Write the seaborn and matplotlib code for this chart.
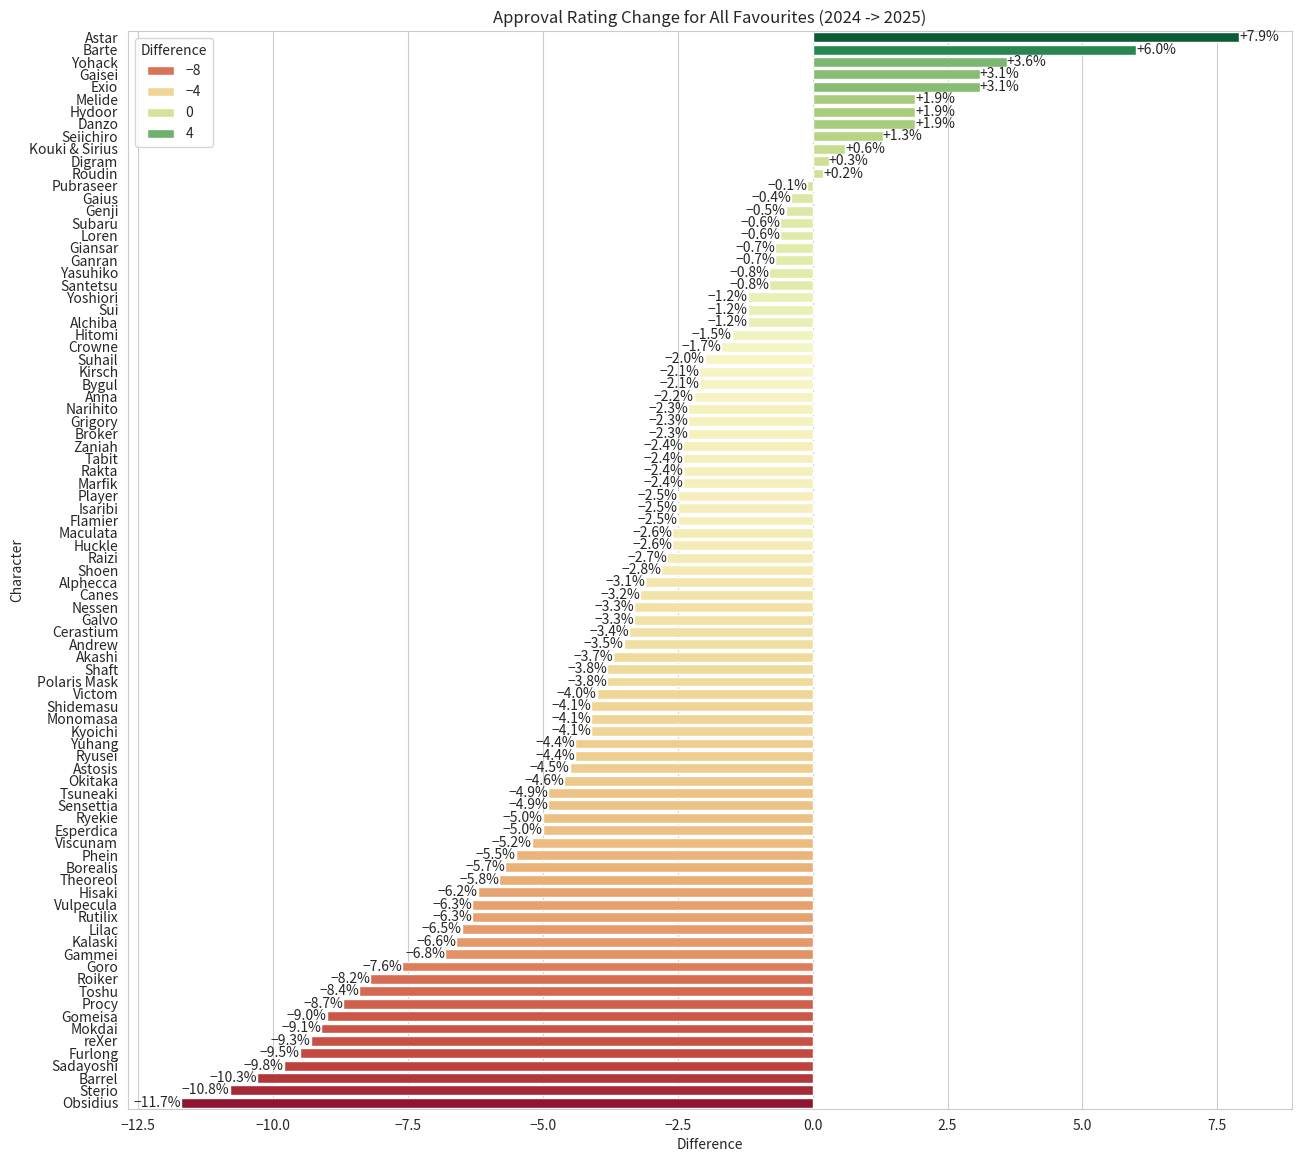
import matplotlib
matplotlib.use('Agg')
import matplotlib.pyplot as plt
import pandas as pd
import seaborn as sns

characters = [
    'Astar', 'Barte', 'Yohack', 'Gaisei', 'Exio', 'Melide', 'Hydoor', 'Danzo',
    'Seiichiro', 'Kouki & Sirius', 'Digram', 'Roudin', 'Pubraseer', 'Gaius',
    'Genji', 'Subaru', 'Loren', 'Giansar', 'Ganran', 'Yasuhiko', 'Santetsu',
    'Yoshiori', 'Sui', 'Alchiba', 'Hitomi', 'Crowne', 'Suhail', 'Kirsch',
    'Bygul', 'Anna', 'Narihito', 'Grigory', 'Broker', 'Zaniah', 'Tabit',
    'Rakta', 'Marfik', 'Player', 'Isaribi', 'Flamier', 'Maculata', 'Huckle',
    'Raizi', 'Shoen', 'Alphecca', 'Canes', 'Nessen', 'Galvo', 'Cerastium',
    'Andrew', 'Akashi', 'Shaft', 'Polaris Mask', 'Victom', 'Shidemasu',
    'Monomasa', 'Kyoichi', 'Yuhang', 'Ryusei', 'Astosis', 'Okitaka',
    'Tsuneaki', 'Sensettia', 'Ryekie', 'Esperdica', 'Viscunam', 'Phein',
    'Borealis', 'Theoreol', 'Hisaki', 'Vulpecula', 'Rutilix', 'Lilac',
    'Kalaski', 'Gammei', 'Goro', 'Roiker', 'Toshu', 'Procy', 'Gomeisa',
    'Mokdai', 'reXer', 'Furlong', 'Sadayoshi', 'Barrel', 'Sterio', 'Obsidius',
]

differences = [
    7.9, 6.0, 3.6, 3.1, 3.1, 1.9, 1.9, 1.9,
    1.3, 0.6, 0.3, 0.2, -0.1, -0.4,
    -0.5, -0.6, -0.6, -0.7, -0.7, -0.8, -0.8,
    -1.2, -1.2, -1.2, -1.5, -1.7, -2.0, -2.1,
    -2.1, -2.2, -2.3, -2.3, -2.3, -2.4, -2.4,
    -2.4, -2.4, -2.5, -2.5, -2.5, -2.6, -2.6,
    -2.7, -2.8, -3.1, -3.2, -3.3, -3.3, -3.4,
    -3.5, -3.7, -3.8, -3.8, -4.0, -4.1,
    -4.1, -4.1, -4.4, -4.4, -4.5, -4.6,
    -4.9, -4.9, -5.0, -5.0, -5.2, -5.5,
    -5.7, -5.8, -6.2, -6.3, -6.3, -6.5,
    -6.6, -6.8, -7.6, -8.2, -8.4, -8.7, -9.0,
    -9.1, -9.3, -9.5, -9.8, -10.3, -10.8, -11.7,
]

sns.set_style('whitegrid')
plt.rcParams['font.family'] = ['Noto Sans CJK JP', 'DejaVu Sans']

df = pd.DataFrame({'Character': characters, 'Difference': differences})

fig, ax = plt.subplots(figsize=(13, 11.62), dpi=100)
sns.barplot(data=df, x='Difference', y='Character', hue='Difference',
            palette='RdYlGn', order=characters, dodge=False, ax=ax)

for container in ax.containers:
    labels = [f'{b.get_width():+.1f}%'.replace('-', '\u2212') for b in container]
    ax.bar_label(container, labels=labels)

ax.set_title('Approval Rating Change for All Favourites (2024 -> 2025)')
ax.set_xlabel('Difference')
ax.set_ylabel('Character')
ax.legend(title='Difference', loc='upper left')

fig.subplots_adjust(left=0.0985, right=0.9938, top=0.9733, bottom=0.0456)
plt.savefig('out.png', dpi=100)
